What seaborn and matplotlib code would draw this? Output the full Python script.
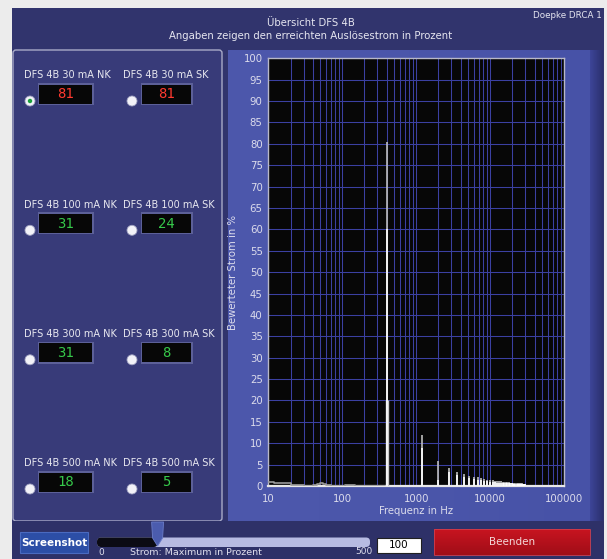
import matplotlib
matplotlib.use("Agg")
import matplotlib.pyplot as plt
import matplotlib.patches as mpatches
from matplotlib.ticker import FixedLocator, FixedFormatter, NullLocator
from matplotlib.colors import LinearSegmentedColormap
import seaborn as sns
import pandas as pd
import numpy as np

# ---------------- data ----------------
title_lines = ["Übersicht DFS 4B", "Angaben zeigen den erreichten Auslösestrom in Prozent"]
device_name = "Doepke DRCA 1"

channel_labels = ["DFS 4B 30 mA NK", "DFS 4B 30 mA SK",
                  "DFS 4B 100 mA NK", "DFS 4B 100 mA SK",
                  "DFS 4B 300 mA NK", "DFS 4B 300 mA SK",
                  "DFS 4B 500 mA NK", "DFS 4B 500 mA SK"]
channel_values = [81, 81, 31, 24, 31, 8, 18, 5]

harm_freqs = [400, 1200, 2000, 2800, 3600, 4400, 5200, 6000, 6800, 7600, 8400, 9200,
              10000, 10800, 11600, 12400, 13200, 14000, 14800, 15600, 16400, 17200,
              18000, 18800, 19600, 20400, 21200, 22000, 22800, 23600, 24400, 25200,
              26000, 26800, 27600, 28400, 29200, 30000]
peak_gray = [80.5, 12.0, 5.8, 4.1, 3.3, 2.8, 2.4, 2.2, 2.0, 1.8, 1.6, 1.5,
             1.4, 1.3, 1.2, 1.2, 1.1, 1.1, 1.0, 1.0, 0.9, 0.9,
             0.9, 0.8, 0.8, 0.8, 0.7, 0.7, 0.7, 0.7, 0.6, 0.6,
             0.6, 0.6, 0.5, 0.5, 0.5, 0.5]
peak_white = [60.0, 9.0, 1.5, 3.2, 2.6, 2.2, 1.9, 1.7, 1.5, 1.3, 1.2, 1.1,
              1.0, 0.9, 0.9, 0.8, 0.8, 0.8, 0.7, 0.7, 0.7, 0.6,
              0.6, 0.6, 0.6, 0.5, 0.5, 0.5, 0.5, 0.5, 0.4, 0.4,
              0.4, 0.4, 0.4, 0.4, 0.4, 0.4]
side_freqs = [390, 410]
side_vals = [20.0, 20.0]

noise_freqs = [10, 12, 15, 20, 25, 30, 40, 45, 50, 55, 60, 70, 100, 110, 120, 130, 150, 200, 300, 380]
noise_vals = [1.0, 0.8, 0.6, 0.3, 0.2, 0.1, 0.2, 0.5, 0.6, 0.5, 0.2, 0.1, 0.1, 0.3, 0.3, 0.2, 0.0, 0.0, 0.0, 0.0]

x_ticks = [10, 100, 1000, 10000, 100000]
x_tick_labels = ["10", "100", "1000", "10000", "100000"]
y_ticks = list(range(0, 101, 5))

slider_min, slider_max, slider_value = 0, 500, 100

# ---------------- figure ----------------
sns.set_style("dark")
plt.rcParams['font.family'] = ['DejaVu Sans']

W, H = 607, 559
fig = plt.figure(figsize=(W / 100, H / 100), dpi=100)
fig.patch.set_facecolor("#ececec")

bg = fig.add_axes([0, 0, 1, 1])
bg.set_xlim(0, W)
bg.set_ylim(H, 0)
bg.axis("off")

def rect(x0, y0, x1, y1, fc, ec="none", lw=0, z=1, rounded=False, pad=0.0):
    if rounded:
        p = mpatches.FancyBboxPatch((x0, y0), x1 - x0, y1 - y0,
                                    boxstyle=f"round,pad=0,rounding_size={pad}",
                                    fc=fc, ec=ec, lw=lw, zorder=z)
    else:
        p = mpatches.Rectangle((x0, y0), x1 - x0, y1 - y0, fc=fc, ec=ec, lw=lw, zorder=z)
    bg.add_patch(p)
    return p

# window
rect(12, 8, 604, 559, "#31346d", z=0)
# header
bg.text(311, 23, title_lines[0], color="#e6e6f0", fontsize=7.3, ha="center", va="center")
bg.text(311, 36, title_lines[1], color="#e6e6f0", fontsize=7.3, ha="center", va="center")
bg.text(602, 15, device_name, color="#e6e6f0", fontsize=6.3, ha="right", va="center")

# left panel
rect(13, 50, 222, 521, "#383b79", ec="#a9abc8", lw=1.0, z=1, rounded=True, pad=3)

# chart panel with gradient
grad = np.linspace(0, 1, 200)[None, :]
cm = LinearSegmentedColormap.from_list("p", ["#4d58ac", "#4b56aa", "#4752a7"])
bg.imshow(grad, extent=(228, 590, 521, 50), aspect="auto", cmap=cm, zorder=1)
cm2 = LinearSegmentedColormap.from_list("s", ["#3d4598", "#2b306e"])
bg.imshow(grad, extent=(590, 603, 521, 50), aspect="auto", cmap=cm2, zorder=1)
bg.set_xlim(0, W)
bg.set_ylim(H, 0)

# bottom bar
rect(12, 521, 604, 559, "#2e3168", z=1)

# channel widgets
row_y = [75.5, 204.8, 334.3, 463.5]
col_x = [(24, 30, 39, 92), (123, 132, 142, 191)]  # label x, radio x, box x0, box x1
for i, (lab, val) in enumerate(zip(channel_labels, channel_values)):
    r = i // 2
    c = i % 2
    lx, rx, bx0, bx1 = col_x[c]
    y = row_y[r]
    bg.text(lx, y, lab, color="#e8e8f0", fontsize=7.0, ha="left", va="center", zorder=5)
    rect(bx0 - 1.5, y + 7.5, bx1 + 1.5, y + 29.5, "#5c6098", z=4)
    rect(bx0, y + 9, bx1, y + 28, "#070707", z=5)
    col = "#ff3a30" if val >= 50 else "#36c84a"
    bg.text((bx0 + bx1) / 2, y + 18.7, str(val), color=col, fontsize=10,
            family="DejaVu Sans Mono", ha="center", va="center", zorder=6)
    bg.add_patch(mpatches.Circle((rx, y + 25.5), 5.0, fc="#f2f2f8", ec="#9ea0c0", lw=0.6, zorder=5))
    if i == 0:
        bg.add_patch(mpatches.Circle((rx, y + 25.5), 2.2, fc="#1aa03c", ec="none", zorder=6))

# bottom controls
rect(20, 532, 88, 553, "#2c4ea6", ec="#4a6ac0", lw=0.8, z=3)
bg.text(54, 542.5, "Screenshot", color="white", fontsize=7.5, fontweight="bold",
        ha="center", va="center", zorder=4)

# slider
rect(97, 537.5, 370, 547, "#b7bbe2", z=3, rounded=True, pad=4)
frac = (slider_value - slider_min) / (slider_max - slider_min)
thumb_x = 100 + frac * (368 - 100)
rect(97, 537.5, thumb_x + 4, 547, "#0b0b14", z=3, rounded=True, pad=4)
thumb = mpatches.Polygon([(thumb_x - 2, 522), (thumb_x + 10, 522), (thumb_x + 9, 538),
                          (thumb_x + 4, 546), (thumb_x - 1, 538)],
                         closed=True, fc="#4b5cae", ec="#6a7cc8", lw=0.6, zorder=4)
bg.add_patch(thumb)
bg.text(101, 552.5, str(slider_min), color="#e0e0ee", fontsize=6.5, ha="center", va="center", zorder=4)
bg.text(130, 552.5, "Strom: Maximum in Prozent", color="#e0e0ee", fontsize=6.8, ha="left", va="center", zorder=4)
bg.text(364, 551.5, str(slider_max), color="#e0e0ee", fontsize=6.5, ha="center", va="center", zorder=4)

rect(377, 538, 421, 553, "white", ec="#202020", lw=0.8, z=3)
bg.text(399, 545.5, str(slider_value), color="black", fontsize=7.5, ha="center", va="center", zorder=4)

cmr = LinearSegmentedColormap.from_list("r", ["#c81420", "#a00e18"])
bg.imshow(np.linspace(0, 1, 50)[:, None], extent=(434, 590, 555, 529), aspect="auto", cmap=cmr, zorder=3)
bg.add_patch(mpatches.Rectangle((434, 529), 156, 26, fc="none", ec="#d04050", lw=0.6, zorder=4))
bg.text(512, 542, "Beenden", color="#f4d8d8", fontsize=7.5, ha="center", va="center", zorder=5)
bg.set_xlim(0, W)
bg.set_ylim(H, 0)

# ---------------- chart ----------------
L, R, T, B = 268.3, 564.0, 58.3, 486.0
ax = fig.add_axes([L / W, (H - B) / H, (R - L) / W, (B - T) / H])
ax.set_facecolor("#070707")
ax.set_xscale("log")
ax.set_xlim(10, 100000)
ax.set_ylim(0, 100)

# all log grid positions as major ticks; only decades get a label
grid_pos = []
grid_lab = []
for d in x_ticks[:-1]:
    for m in range(1, 10):
        grid_pos.append(d * m)
        grid_lab.append(x_tick_labels[x_ticks.index(d)] if m == 1 else "")
grid_pos.append(x_ticks[-1])
grid_lab.append(x_tick_labels[-1])
ax.xaxis.set_major_locator(FixedLocator(grid_pos))
ax.xaxis.set_major_formatter(FixedFormatter(grid_lab))
ax.xaxis.set_minor_locator(NullLocator())
ax.yaxis.set_major_locator(FixedLocator(y_ticks))
ax.set_yticklabels([str(v) for v in y_ticks])

ax.tick_params(axis="both", which="both", length=0, labelcolor="#dcdcec", labelsize=7.3)
ax.tick_params(axis="x", pad=6)
ax.tick_params(axis="y", pad=4)
ax.grid(True, which="major", axis="both", color="#3b40a2", lw=0.75, alpha=1.0)
ax.set_axisbelow(True)

noise_df = pd.DataFrame({"f": noise_freqs, "v": noise_vals})
sns.lineplot(data=noise_df, x="f", y="v", ax=ax, color="#9a9a9a", lw=1.2, drawstyle="steps-post", zorder=3)
ax.vlines(harm_freqs, 0, peak_gray, colors="#bdbdbd", lw=1.2, zorder=4)
ax.vlines(harm_freqs, 0, peak_white, colors="#ffffff", lw=1.2, zorder=5)
ax.vlines(side_freqs, 0, side_vals, colors="#c8c8c8", lw=1.0, zorder=4)
ax.set_xlim(10, 100000)
ax.set_ylim(0, 100)

for s in ax.spines.values():
    s.set_visible(True)
    s.set_color("#b8b8c8")
    s.set_linewidth(1.0)
ax.spines["bottom"].set_color("#e8e8e8")
ax.spines["bottom"].set_linewidth(1.6)

ax.set_xlabel("Frequenz in Hz", color="#dcdcec", fontsize=7.3, labelpad=1)
ax.set_ylabel("Bewerteter Strom in %", color="#dcdcec", fontsize=7.3, labelpad=4)

fig.savefig("out.png", dpi=100, facecolor=fig.get_facecolor())
